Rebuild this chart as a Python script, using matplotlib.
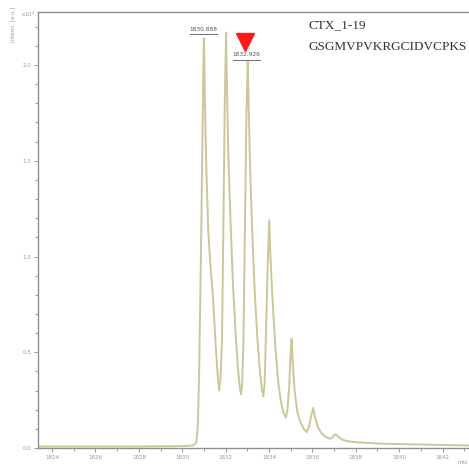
import numpy as np
import matplotlib
matplotlib.use("Agg")
import matplotlib.pyplot as plt
from matplotlib.ticker import MultipleLocator

# spectrum (m/z, intensity x1e4)
mz = [1823.3, 1826.0, 1828.0, 1830.0, 1830.5, 1830.65, 1830.72, 1830.78, 1830.86, 1830.93, 1830.98, 1831.0,
      1831.04, 1831.10, 1831.20, 1831.30, 1831.42, 1831.55, 1831.64, 1831.70,
      1831.76, 1831.83, 1831.89, 1831.96, 1832.02,
      1832.06, 1832.12, 1832.22, 1832.34, 1832.46, 1832.58, 1832.66, 1832.71,
      1832.76, 1832.82, 1832.89, 1832.96, 1833.02,
      1833.06, 1833.12, 1833.22, 1833.34, 1833.46, 1833.58, 1833.68, 1833.74,
      1833.80, 1833.87, 1833.95, 1834.01,
      1834.06, 1834.14, 1834.28, 1834.42, 1834.55, 1834.68, 1834.78,
      1834.85, 1834.93, 1835.0, 1835.04,
      1835.09, 1835.18, 1835.30, 1835.43, 1835.60, 1835.74,
      1835.84, 1835.95, 1836.04,
      1836.12, 1836.25, 1836.40, 1836.58, 1836.75, 1836.88, 1836.98, 1837.08,
      1837.2, 1837.35, 1837.58, 1838.04, 1839.1, 1840.27, 1842.25, 1843.3]
intens = [0.008, 0.008, 0.008, 0.010, 0.013, 0.03, 0.12, 0.40, 1.00, 1.60, 2.05, 2.14,
          1.85, 1.50, 1.13, 0.95, 0.78, 0.52, 0.37, 0.30,
          0.36, 0.55, 1.10, 1.80, 2.17,
          1.90, 1.55, 1.20, 0.85, 0.60, 0.40, 0.31, 0.28,
          0.33, 0.55, 1.15, 1.75, 2.02,
          1.80, 1.50, 1.15, 0.82, 0.58, 0.40, 0.30, 0.27,
          0.34, 0.65, 1.00, 1.19,
          1.02, 0.82, 0.55, 0.35, 0.24, 0.18, 0.16,
          0.20, 0.32, 0.50, 0.57,
          0.45, 0.30, 0.19, 0.14, 0.10, 0.083,
          0.11, 0.17, 0.21,
          0.16, 0.11, 0.08, 0.06, 0.05, 0.05, 0.065, 0.072,
          0.058, 0.045, 0.036, 0.030, 0.023, 0.020, 0.015, 0.013]

peak_labels = ["1830.888", "1832.926"]
label_x = [1830.96, 1832.96]
label_y = [2.175, 2.04]

xticks = [1824, 1826, 1828, 1830, 1832, 1834, 1836, 1838, 1840, 1842]
yticks = [0.0, 0.5, 1.0, 1.5, 2.0]

fig = plt.figure(figsize=(4.69, 4.68), dpi=100)
ax = fig.add_axes([38/469, 20/468, 431/469, 436/468])

ax.plot(mz, intens, color="#cbc79a", lw=1.4, solid_joinstyle="round")

ax.set_xlim(1823.35, 1843.22)
ax.set_ylim(0, 2.277)
ax.set_xticks(xticks)
ax.set_yticks(yticks)
ax.set_xticklabels([str(t) for t in xticks])
ax.set_yticklabels(["%.1f" % t for t in yticks])
ax.xaxis.set_minor_locator(MultipleLocator(1))
ax.yaxis.set_minor_locator(MultipleLocator(0.1))
ax.tick_params(which="both", direction="out", colors="#888888", labelsize=4,
               labelcolor="#999999", width=0.6, pad=2)
ax.tick_params(which="major", length=3)
ax.tick_params(which="minor", length=2)
for s in ["left", "bottom", "top"]:
    ax.spines[s].set_color("#909090")
    ax.spines[s].set_linewidth(1.0)
ax.spines["right"].set_visible(False)

# peak labels with underline
for txt, x, y in zip(peak_labels, label_x, label_y):
    ax.text(x, y, txt, ha="center", va="bottom", fontsize=4.2, color="#555555")
    ax.plot([x - 0.62, x + 0.62], [y - 0.012, y - 0.012], color="#555555", lw=0.6)

# red marker above third peak
ax.plot([1832.9], [2.12], marker="v", color="#ff1a1a", markersize=13,
        clip_on=False)

ax.text(0.628, 0.97, "CTX_1-19", transform=ax.transAxes, fontsize=9.5,
        family="Liberation Serif", color="#333333", va="center")
ax.text(0.628, 0.92, "GSGMVPVKRGCIDVCPKS", transform=ax.transAxes, fontsize=9.5,
        family="Liberation Serif", color="#333333", va="center")

fig.text(13/469, 1 - 24/468, "Intens. [a.u.]", rotation=90, fontsize=4,
         color="#999999", ha="center", va="center")
fig.text(28/469, 1 - 14/468, r"x10$^4$", fontsize=4, color="#999999",
         ha="center", va="center")
fig.text(463/469, 1 - 462/468, "m/z", fontsize=4, color="#999999",
         ha="center", va="center")

fig.savefig("out.png", dpi=100)
